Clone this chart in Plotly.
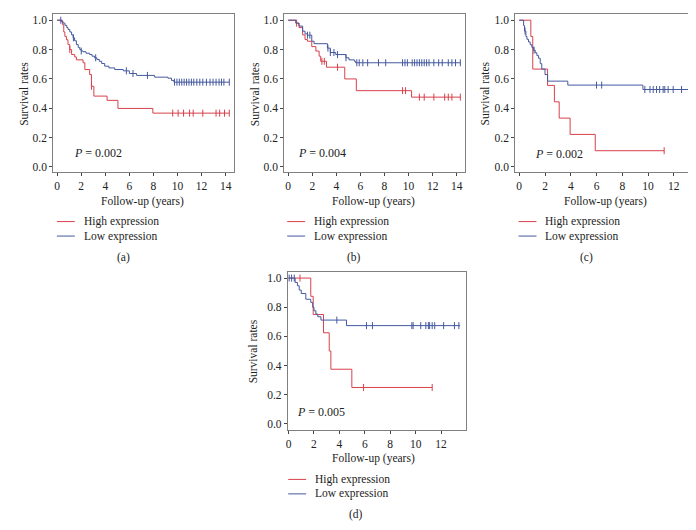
import numpy as np
import plotly.graph_objects as go

W, H = 696, 530

# ---------------- data ----------------
# Panel (a)
a_low_t = [0, 0.36, 0.5, 0.65, 0.8, 0.9, 1.05, 1.2, 1.33, 1.45, 1.6, 1.75, 1.88, 2.0, 2.15, 2.4, 2.7, 2.9,
           3.1, 3.3, 3.5, 3.7, 3.95, 4.3, 4.78, 5.5, 6.0, 6.6, 8.1, 9.2, 9.5, 9.7, 14.3]
a_low_s = [1.0, 0.99, 0.98, 0.965, 0.95, 0.937, 0.92, 0.9, 0.88, 0.86, 0.834, 0.815, 0.80, 0.79, 0.785, 0.775,
           0.766, 0.755, 0.744, 0.733, 0.72, 0.705, 0.687, 0.675, 0.664, 0.655, 0.637, 0.624, 0.612, 0.605,
           0.59, 0.578, 0.578]
a_high_t = [0, 0.44, 0.55, 0.64, 0.77, 0.9, 1.05, 1.2, 1.46, 1.6, 2.15, 2.3, 2.7, 2.85, 3.05, 4.15, 5.05, 7.95, 14.3]
a_high_s = [1.0, 0.97, 0.92, 0.89, 0.867, 0.834, 0.80, 0.766, 0.75, 0.73, 0.71, 0.664, 0.63, 0.55, 0.483,
            0.454, 0.399, 0.367, 0.367]
a_low_cens = [0.3, 1.35, 2.0, 3.2, 5.75, 6.3, 7.5, 9.75, 9.95, 10.15, 10.35, 10.55, 10.75, 10.95, 11.15, 11.35,
              11.6, 11.85, 12.1, 12.4, 12.7, 12.95, 13.2, 13.45, 13.65, 13.85, 14.3]
a_high_cens = [1.05, 2.85, 9.6, 10.05, 10.5, 11.0, 11.3, 12.1, 13.2, 13.5, 13.9, 14.3]

# Panel (b)
b_low_t = [0, 0.64, 0.9, 1.2, 1.4, 1.6, 1.96, 2.15, 3.26, 3.5, 3.95, 4.8, 5.05, 5.5, 5.6, 14.3]
b_low_s = [1.0, 0.98, 0.96, 0.925, 0.907, 0.898, 0.857, 0.84, 0.81, 0.78, 0.766, 0.744, 0.73, 0.72, 0.71, 0.71]
b_high_t = [0, 0.64, 0.9, 1.2, 1.4, 1.6, 1.96, 2.3, 2.57, 2.7, 3.18, 4.7, 5.66, 10.25, 14.3]
b_high_s = [1.0, 0.98, 0.95, 0.90, 0.868, 0.857, 0.82, 0.79, 0.755, 0.72, 0.68, 0.60, 0.52, 0.476, 0.476]
b_low_cens = [1.6, 1.8, 3.3, 3.5, 3.8, 4.1, 4.8, 5.7, 5.9, 6.2, 6.6, 7.5, 8.1, 9.5, 9.7, 9.9, 10.3, 10.5, 10.7,
              10.9, 11.1, 11.3, 11.5, 11.7, 12.1, 12.5, 12.8, 13.3, 13.6, 13.9, 14.3]
b_high_cens = [0.7, 2.8, 3.0, 4.1, 9.5, 9.75, 10.9, 11.3, 12.1, 13.0, 13.3, 13.6, 14.3]

# Panel (c)
c_low_t = [0, 0.34, 0.41, 0.52, 0.6, 0.72, 0.85, 0.98, 1.1, 1.24, 1.37, 1.5, 1.63, 1.75, 2.0, 2.2, 3.77, 9.6, 13.4]
c_low_s = [1.0, 0.963, 0.926, 0.889, 0.87, 0.852, 0.833, 0.815, 0.796, 0.778, 0.759, 0.741, 0.704, 0.667,
           0.63, 0.585, 0.558, 0.528, 0.528]
c_high_t = [0, 0.9, 1.05, 2.2, 2.73, 3.1, 3.95, 5.9, 11.25]
c_high_s = [1.0, 0.889, 0.667, 0.556, 0.444, 0.333, 0.222, 0.111, 0.111]
c_low_cens = [0.45, 1.15, 6.0, 6.4, 9.75, 10.15, 10.4, 10.66, 10.9, 11.17, 11.3, 11.56, 11.95, 12.6, 13.24]
c_high_cens = [11.25]

# Panel (d)
d_low_t = [0, 0.52, 0.7, 0.84, 1.0, 1.36, 1.75, 1.9, 2.0, 2.15, 2.3, 2.55, 4.56, 13.5]
d_low_s = [1.0, 0.97, 0.947, 0.918, 0.894, 0.855, 0.833, 0.80, 0.776, 0.753, 0.735, 0.712, 0.674, 0.674]
d_high_t = [0, 1.75, 1.94, 2.75, 3.2, 3.33, 4.98, 11.3]
d_high_s = [1.0, 0.875, 0.75, 0.625, 0.5, 0.375, 0.25, 0.25]
d_low_cens = [0.05, 0.24, 0.45, 3.8, 6.13, 6.6, 9.7, 9.8, 10.4, 10.8, 11.0, 11.1, 11.3, 11.5, 12.2, 13.05, 13.4]
d_high_cens = [0.9, 5.9, 11.3]

p_values = ["0.002", "0.004", "0.002", "0.005"]
panel_labels = ["(a)", "(b)", "(c)", "(d)"]
series_names = ["High expression", "Low expression"]
x_ticks_ab = [0, 2, 4, 6, 8, 10, 12, 14]
x_ticks_cd = [0, 2, 4, 6, 8, 10, 12]
y_ticks = [0.0, 0.2, 0.4, 0.6, 0.8, 1.0]

# ---------------- styling / layout ----------------
RED = "#d8404c"
BLUE = "#44599f"
FONT = "Liberation Serif"
TXT = 11.5

def px_x(p):
    return p / W

def px_y(p):
    return 1 - p / H

# frame (pixels): x0, x1, y_top, y_bottom ; data ranges
panels = [
    dict(frame=(43.3, 225.0, 6.5, 164.3), xr=[-0.33, 14.72], yr=[-0.034, 1.039], ticks=x_ticks_ab,
         high=(a_high_t, a_high_s, a_high_cens), low=(a_low_t, a_low_s, a_low_cens),
         p_pos=(1.2, 0.097), ylab=(14, 86), xlab=(133, 193.5), leg=(47, 214), lab=(114, 250)),
    dict(frame=(275.0, 456.7, 6.5, 164.3), xr=[-0.33, 14.72], yr=[-0.034, 1.039], ticks=x_ticks_ab,
         high=(b_high_t, b_high_s, b_high_cens), low=(b_low_t, b_low_s, b_low_cens),
         p_pos=(0.64, 0.093), ylab=(246, 86), xlab=(365, 193.5), leg=(278, 214), lab=(345, 250)),
    dict(frame=(506.7, 687.7, 6.5, 164.3), xr=[-0.31, 13.70], yr=[-0.034, 1.039], ticks=x_ticks_cd,
         high=(c_high_t, c_high_s, c_high_cens), low=(c_low_t, c_low_s, c_low_cens),
         p_pos=(1.05, 0.089), ylab=(476, 86), xlab=(597, 193.5), leg=(510, 214), lab=(578, 250)),
    dict(frame=(278.7, 457.7, 264.3, 422.7), xr=[-0.05, 13.99], yr=[-0.041, 1.043], ticks=x_ticks_cd,
         high=(d_high_t, d_high_s, d_high_cens), low=(d_low_t, d_low_s, d_low_cens),
         p_pos=(0.5, 0.08), ylab=(244, 343.7), xlab=(365, 451.7), leg=(279, 472.3), lab=(347, 507.5)),
]

def step_value(t, s, x):
    t = np.asarray(t); s = np.asarray(s)
    idx = np.searchsorted(t, x, side="right") - 1
    return s[np.clip(idx, 0, len(s) - 1)]

fig = go.Figure()
layout = dict(
    width=W, height=H, margin=dict(l=0, r=0, t=0, b=0),
    paper_bgcolor="white", plot_bgcolor="white", showlegend=False,
    font=dict(family=FONT, size=TXT, color="#222222"),
)
annotations = []
shapes = []

for i, p in enumerate(panels):
    n = "" if i == 0 else str(i + 1)
    xa, ya = "x" + n, "y" + n
    x0, x1, yt, yb = p["frame"]
    common = dict(showline=True, mirror=True, linecolor="#808080", linewidth=1,
                  ticks="outside", ticklen=3, tickwidth=1, tickcolor="#444444",
                  showgrid=False, zeroline=False,
                  tickfont=dict(family=FONT, size=11.5, color="#222222"))
    layout["xaxis" + n] = dict(domain=[px_x(x0), px_x(x1)], range=p["xr"], anchor=ya,
                               tickvals=p["ticks"], ticktext=[str(v) for v in p["ticks"]], **common)
    layout["yaxis" + n] = dict(domain=[px_y(yb), px_y(yt)], range=p["yr"], anchor=xa,
                               tickvals=y_ticks, tickformat=".1f", **common)

    for (t, s, cens), color, name in [(p["high"], RED, series_names[0]), (p["low"], BLUE, series_names[1])]:
        fig.add_trace(go.Scatter(x=t, y=s, mode="lines", line=dict(color=color, width=1, shape="hv"),
                                 name=name, xaxis=xa, yaxis=ya, hoverinfo="skip"))
        fig.add_trace(go.Scatter(x=cens, y=step_value(t, s, cens), mode="markers",
                                 marker=dict(symbol="line-ns-open", size=5, color=color,
                                             line=dict(color=color, width=1)),
                                 name=name + " censored", xaxis=xa, yaxis=ya, hoverinfo="skip"))

    annotations.append(dict(x=p["p_pos"][0], y=p["p_pos"][1], xref=xa, yref=ya, xanchor="left", yanchor="middle",
                            text="<i>P</i> = " + p_values[i], showarrow=False,
                            font=dict(family=FONT, size=12, color="#222222")))
    annotations.append(dict(x=px_x(p["ylab"][0]), y=px_y(p["ylab"][1]), xref="paper", yref="paper",
                            text="Survival rates", textangle=-90, showarrow=False,
                            xanchor="center", yanchor="middle", font=dict(family=FONT, size=TXT)))
    annotations.append(dict(x=px_x(p["xlab"][0]), y=px_y(p["xlab"][1]), xref="paper", yref="paper",
                            text="Follow-up (years)", showarrow=False,
                            xanchor="center", yanchor="middle", font=dict(family=FONT, size=TXT)))
    lx, ly = p["leg"]
    for k, (name, color) in enumerate(zip(series_names, [RED, BLUE])):
        yy = ly + 14.5 * k
        shapes.append(dict(type="line", xref="paper", yref="paper", x0=px_x(lx), x1=px_x(lx + 18),
                           y0=px_y(yy), y1=px_y(yy), line=dict(color=color, width=1)))
        annotations.append(dict(x=px_x(lx + 25), y=px_y(yy), xref="paper", yref="paper", text=name,
                                showarrow=False, xanchor="left", yanchor="middle",
                                font=dict(family=FONT, size=TXT)))
    annotations.append(dict(x=px_x(p["lab"][0]), y=px_y(p["lab"][1]), xref="paper", yref="paper",
                            text=panel_labels[i], showarrow=False, xanchor="center", yanchor="middle",
                            font=dict(family=FONT, size=TXT)))

layout["annotations"] = annotations
layout["shapes"] = shapes
fig.update_layout(**layout)
fig.write_html("out.html")
